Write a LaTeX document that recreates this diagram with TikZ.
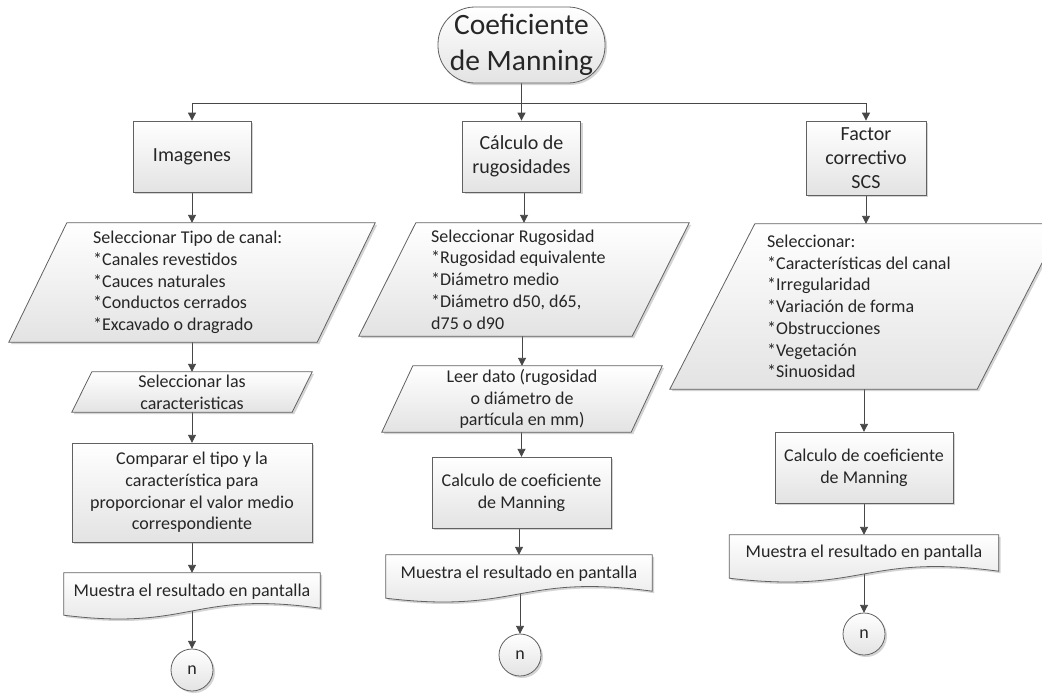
\documentclass[tikz,border=0pt]{standalone}
\usepackage{fontspec}
\setmainfont{Carlito}
\usetikzlibrary{arrows.meta,calc,shadows}
\pgfdeclarelayer{bg}
\pgfdeclarelayer{lines}
\pgfsetlayers{bg,lines,main}
\newcommand{\dataShape}[2]{\path[shp] ($(#1.north west)+(#2,0)$) -- ($(#1.north east)+(#2,0)$) -- ($(#1.south east)+(-#2,0)$) -- ($(#1.south west)+(-#2,0)$) -- cycle;}
\newcommand{\docShape}[1]{\path[shp] (#1.north west) -- (#1.north east) -- ($(#1.south east)+(0,-7)$) .. controls ($(#1.south)+(0,-25)$) and ($(#1.south)+(0,16)$) .. (#1.south west) -- cycle;}
\begin{document}
\begin{tikzpicture}[x=1pt,y=-1pt,
  txt/.style={font=\fontsize{18}{21.7}\selectfont, text=black!85},
  bigtxt/.style={font=\fontsize{20}{24}\selectfont},
  shp/.style={draw=black!62, line width=0.8pt, top color=white, bottom color=black!11,
    drop shadow={shadow xshift=2pt, shadow yshift=-2pt, opacity=0.3, fill=black!55}},
  box/.style={shp, rectangle, inner sep=0pt, align=center, txt},
  ghost/.style={rectangle, inner sep=0pt, draw=none},
  circ/.style={shp, circle, inner sep=0pt, minimum size=42pt, txt},
  ln/.style={draw=black!72, line width=0.9pt},
  arr/.style={ln, -{Triangle[length=8pt,width=8pt]}},
]
\useasboundingbox (0,0) rectangle (1042,694);
\begin{pgfonlayer}{bg}
\fill[white] (0,0) rectangle (1042,694);
\end{pgfonlayer}

% ---------- nodes / ghost frames ----------
\node[box, rounded corners=37pt, minimum width=167pt, minimum height=76pt,
      font=\fontsize{29.5}{35.4}\selectfont] (start) at (521.5,45) {Coeficiente\\de Manning};
\coordinate (j) at (521.5,103);

% left column
\node[box, bigtxt, minimum width=118pt, minimum height=71pt] (img) at (192,156.5) {Imagenes};
\node[ghost, minimum width=308pt, minimum height=119pt] (sel1) at (192,282.5) {};
\node[ghost, minimum width=220pt, minimum height=40pt] (sel2) at (192,392) {};
\node[ghost, minimum width=240pt, minimum height=99pt] (cmp) at (192,492.5) {};
\node[ghost, minimum width=256pt, minimum height=42pt] (doc1) at (192,594) {};
\node[ghost, minimum size=42pt, circle] (n1) at (192,670) {};

% middle column
\node[box, bigtxt, minimum width=118pt, minimum height=71pt] (cal) at (521.5,156.5) {Cálculo de\\rugosidades};
\node[ghost, minimum width=273pt, minimum height=113pt] (sel3) at (524,279.5) {};
\node[ghost, minimum width=249pt, minimum height=66pt] (leer) at (522,399) {};
\node[ghost, minimum width=179pt, minimum height=71pt] (calc2) at (521.5,492.5) {};
\node[ghost, minimum width=266pt, minimum height=43pt] (doc2) at (519,576.5) {};
\node[ghost, minimum size=42pt, circle] (n2) at (520,655) {};

% right column
\node[box, bigtxt, minimum width=120pt, minimum height=74pt] (fac) at (866,158) {Factor\\correctivo\\SCS};
\node[ghost, minimum width=307pt, minimum height=165pt] (sel4) at (866,306.5) {};
\node[ghost, minimum width=178pt, minimum height=71pt] (calc3) at (864,467.5) {};
\node[ghost, minimum width=269pt, minimum height=43pt] (doc3) at (864,556.5) {};
\node[ghost, minimum size=42pt, circle] (n3) at (864,634) {};

% ---------- connectors ----------
\begin{pgfonlayer}{lines}
\draw[ln] (start.center) -- (j);
\draw[arr] (j) -| (img.north);
\draw[arr] (j) -- (cal.north);
\draw[arr] (j) -| (fac.north);
\foreach \a/\b in {img/sel1, sel1/sel2, sel2/cmp, cmp/doc1, doc1/n1,
                   cal/sel3, sel3/leer, leer/calc2, calc2/doc2, doc2/n2,
                   fac/sel4, sel4/calc3, calc3/doc3, doc3/n3}
  \draw[arr] (\b.north |- \a.center) -- (\b.north);
\end{pgfonlayer}

% ---------- shapes and texts ----------
% left
\dataShape{sel1}{29}
\node[txt, align=left, anchor=west, inner sep=0pt] (sel1t) at (93,282.5)
  {Seleccionar Tipo de canal:\\*Canales revestidos\\*Cauces naturales\\*Conductos cerrados\\*Excavado o dragrado};
\dataShape{sel2}{10}
\node[txt, align=center, inner sep=0pt] (sel2t) at (192,392) {Seleccionar las\\caracteristicas};
\node[box, minimum width=240pt, minimum height=99pt] (cmpb) at (cmp) {Comparar el tipo y la\\característica para\\proporcionar el valor medio\\correspondiente};
\docShape{doc1}
\node[txt, inner sep=0pt] (doc1t) at (192,592) {Muestra el resultado en pantalla};
\node[circ] (n1b) at (n1) {n};

% middle
\dataShape{sel3}{28.5}
\node[txt, align=left, anchor=west, inner sep=0pt] (sel3t) at (431,279.5)
  {Seleccionar Rugosidad\\*Rugosidad equivalente\\*Diámetro medio\\*Diámetro d50, d65,\\d75 o d90};
\dataShape{leer}{15.5}
\node[txt, align=center, inner sep=0pt] (leert) at (522,399) {Leer dato (rugosidad\\o diámetro de\\partícula en mm)};
\node[box, minimum width=179pt, minimum height=71pt] (calc2b) at (calc2) {Calculo de coeficiente\\de Manning};
\docShape{doc2}
\node[txt, inner sep=0pt] (doc2t) at (519,574) {Muestra el resultado en pantalla};
\node[circ] (n2b) at (n2) {n};

% right
\dataShape{sel4}{42.5}
\node[txt, align=left, anchor=west, inner sep=0pt] (sel4t) at (767,306.5)
  {Seleccionar:\\*Características del canal\\*Irregularidad\\*Variación de forma\\*Obstrucciones\\*Vegetación\\*Sinuosidad};
\node[box, minimum width=178pt, minimum height=71pt] (calc3b) at (calc3) {Calculo de coeficiente\\de Manning};
\docShape{doc3}
\node[txt, inner sep=0pt] (doc3t) at (864,553) {Muestra el resultado en pantalla};
\node[circ] (n3b) at (n3) {n};
\end{tikzpicture}
\end{document}
